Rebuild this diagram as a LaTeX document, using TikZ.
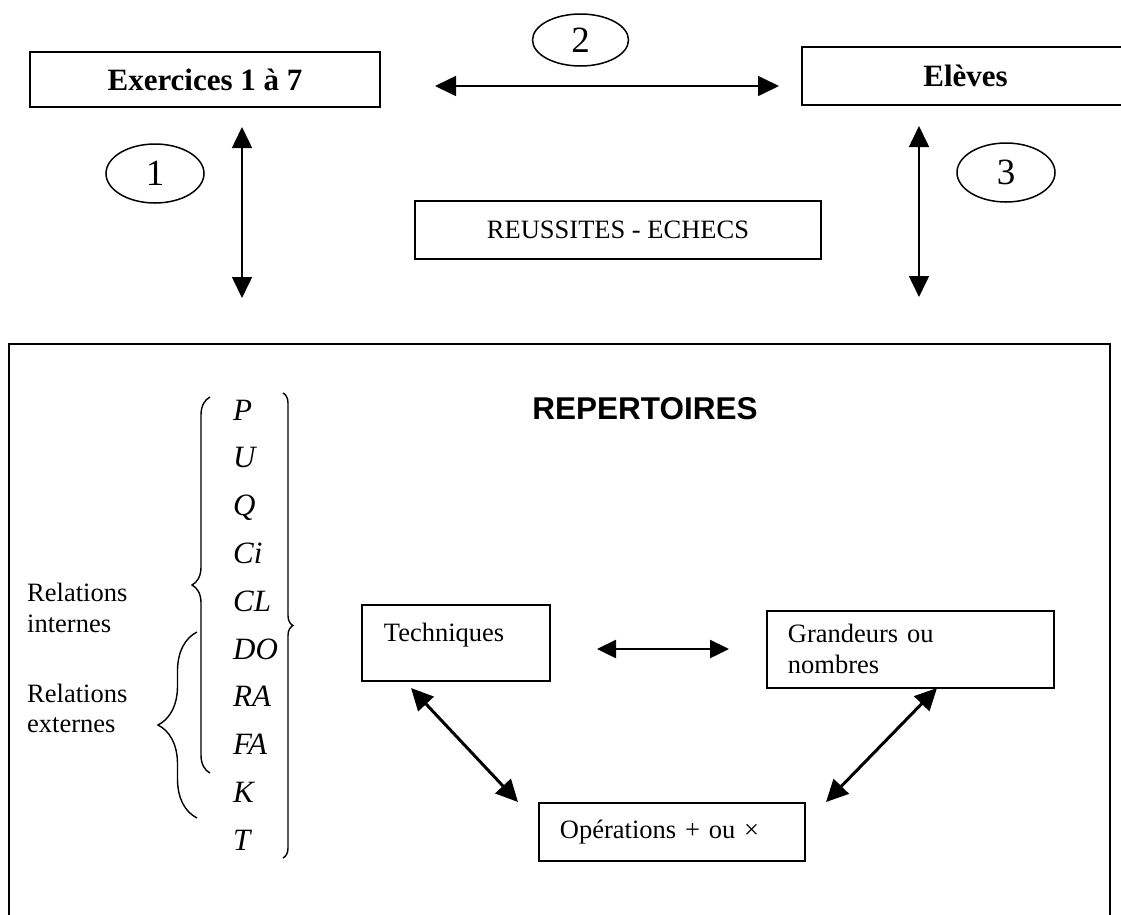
\documentclass[tikz,border=0pt]{standalone}
\usepackage{fontspec}
\setmainfont{Liberation Serif}
\setsansfont{Liberation Sans}
\usetikzlibrary{arrows.meta,shapes.geometric,decorations.pathreplacing}
\tikzset{
  box/.style={draw, line width=1.8pt, inner sep=0pt},
  ell/.style={draw, ellipse, line width=1.5pt, inner sep=0pt, minimum width=98pt, minimum height=59pt, font=\fontsize{37}{42}\selectfont},
  bigtxt/.style={font=\bfseries\fontsize{31}{37}\selectfont},
  txt/.style={font=\fontsize{26.5}{31}\selectfont},
  lett/.style={font=\itshape\fontsize{31}{37}\selectfont, anchor=base west, inner sep=0pt},
  lbl/.style={font=\fontsize{26.5}{30.5}\selectfont, align=left, anchor=west, inner sep=0pt},
  thinarr/.style={{Triangle[length=21pt,width=20pt]}-{Triangle[length=21pt,width=20pt]}, line width=1.6pt},
  midarr/.style={{Triangle[length=19pt,width=18pt]}-{Triangle[length=19pt,width=18pt]}, line width=2.4pt},
  thickarr/.style={{Triangle[length=22pt,width=21pt]}-{Triangle[length=22pt,width=21pt]}, line width=3pt},
  bracestyle/.style={line width=1.4pt, decorate},
}
\begin{document}
\begin{tikzpicture}[x=1pt,y=-1pt]
\useasboundingbox (0,0) rectangle (1121,914);

% top boxes
\node[box, bigtxt, minimum width=350pt, minimum height=55pt] (exo) at (205,79.5) {Exercices 1 à 7};
\node[box, bigtxt, minimum width=327pt, minimum height=58pt] (elv) at (965.5,76) {Elèves};
\node[box, txt, minimum width=406pt, minimum height=58pt] (reu) at (618,230) {REUSSITES - ECHECS};

% ellipses
\node[ell] (e1) at (155,173.5) {1};
\node[ell, minimum width=96pt, minimum height=52pt] (e2) at (580.5,40) {2};
\node[ell] (e3) at (1006,172.5) {3};

% top arrows
\coordinate (a2l) at (435,86);
\coordinate (a2r) at (779,86);
\coordinate (a1t) at (242,127);
\coordinate (a1b) at (242,298);
\coordinate (a3t) at (919,126);
\coordinate (a3b) at (919,297);
\draw[thinarr] (a2l) -- (a2r);
\draw[thinarr] (a1t) -- (a1b);
\draw[thinarr] (a3t) -- (a3b);

% big box
\node[box, minimum width=1101pt, minimum height=620pt, anchor=north west] (rep) at (8,343) {};
\node[font=\sffamily\bfseries\fontsize{31.5}{37}\selectfont, inner sep=0pt] (title) at (645,409) {REPERTOIRES};

% letters
\foreach \t [count=\i from 0] in {P,U,Q,Ci,CL,DO,RA,FA,K,T}
  \node[lett] (L\t) at (233,{420+47.8*\i}) {\t};

% braces
\draw[bracestyle, decoration={brace, amplitude=18pt}] (210,773) -- (210,397);
\draw[bracestyle, decoration={brace, amplitude=39pt}] (197,818) -- (197,632);
\draw[bracestyle, decoration={brace, amplitude=10pt}] (283,393) -- (283,858);

% labels
\node[lbl] (rint) at (27,608) {Relations\\internes};
\node[lbl] (rext) at (27,708.5) {Relations\\externes};

% inner boxes
\node[box, txt, anchor=north west, text width=144pt, align=left, inner xsep=22pt, inner ysep=0pt, text height=37pt, text depth=39pt] (tech) at (361,604) {Techniques};
\node[box, txt, anchor=north west, text width=245pt, align=left, inner xsep=21pt, minimum height=77pt] (grd) at (766,610) {Grandeurs ou\\nombres};
\node[box, txt, anchor=north west, text width=224pt, align=left, inner xsep=21pt, minimum height=58pt] (ope) at (538,802) {Opérations + ou ×};

% inner arrows
\coordinate (mL) at (597,649);
\coordinate (mR) at (729,649);
\coordinate (d1t) at (411,688);
\coordinate (d1b) at (518,802);
\coordinate (d2t) at (937,688);
\coordinate (d2b) at (826,802);
\draw[midarr] (mL) -- (mR);
\draw[thickarr] (d1t) -- (d1b);
\draw[thickarr] (d2t) -- (d2b);
\end{tikzpicture}
\end{document}
